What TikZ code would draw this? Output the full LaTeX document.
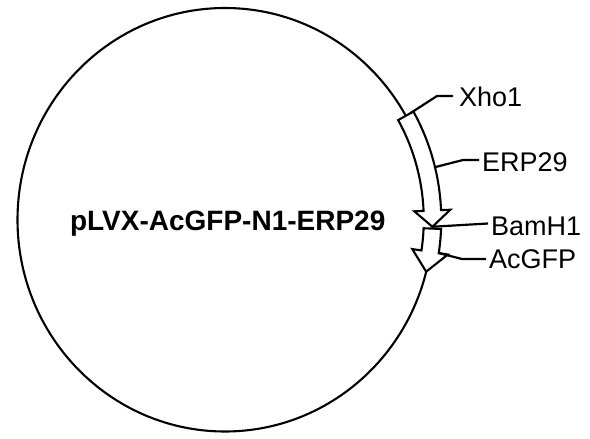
\documentclass[tikz,border=0pt]{standalone}
\usepackage{fontspec}
\setmainfont{Liberation Sans}
\usetikzlibrary{calc}
\newcommand\cx{225}
\newcommand\cy{219.75}
\newcommand\rx{207.5}
\newcommand\ry{211.75}
\newcommand\hw{8.75}
\newcommand\bw{18}
\newcommand\featarrow[3]{%
  \draw[feat] plot[domain=#1:#2,samples=40] ({\cx+(\rx-\hw)*cos(\x)},{\cy+(\ry-\hw)*sin(\x)})
    -- ({\cx+(\rx-\bw)*cos(#2)},{\cy+(\ry-\bw)*sin(#2)})
    -- ({\cx+\rx*cos(#3)},{\cy+\ry*sin(#3)})
    -- ({\cx+(\rx+\bw)*cos(#2)},{\cy+(\ry+\bw)*sin(#2)})
    -- plot[domain=#2:#1,samples=40] ({\cx+(\rx+\hw)*cos(\x)},{\cy+(\ry+\hw)*sin(\x)})
    -- cycle;}
\begin{document}
\begin{tikzpicture}[x=1pt,y=-1pt,line width=2.1pt,
  lbl/.style={font=\fontsize{27}{27}\selectfont, inner sep=0pt, anchor=base west},
  ttl/.style={font=\fontsize{28}{28}\selectfont\bfseries, inner sep=0pt, anchor=base},
  feat/.style={draw=black, fill=white, line join=miter},
  lead/.style={draw=black, line width=2.2pt, line join=round}]
\useasboundingbox[fill=white] (0,0) rectangle (590,439);
% plasmid backbone
\draw (\cx,\cy) ellipse [x radius=207.5pt, y radius=211.75pt];
% features
\featarrow{2.4}{8.7}{14.2}
\featarrow{-29.4}{-2.5}{1.9}
% title
\node[ttl] (title) at (227.7,230) {pLVX-AcGFP-N1-ERP29};
% labels
\node[lbl] (xho) at (458,106) {Xho1};
\node[lbl] (erp) at (481,171) {ERP29};
\node[lbl] (bam) at (490,235) {BamH1};
\node[lbl] (acg) at (488,268.5) {AcGFP};
% leader points
\coordinate (xs) at ({\cx+(\rx+5)*cos(-29.4)},{\cy+(\ry+5)*sin(-29.4)});
\coordinate (xk) at (437,96);
\coordinate (xe) at (453,96);
\coordinate (es) at ({\cx+(\rx+\hw)*cos(-13.8)},{\cy+(\ry+\hw)*sin(-13.8)});
\coordinate (ek) at (463,160);
\coordinate (ee) at (479,160);
\coordinate (bs) at ({\cx+\rx*cos(1.9)},{\cy+\ry*sin(1.9)});
\coordinate (be) at (488,223.5);
\coordinate (as) at ({\cx+(\rx+\hw)*cos(8.7)},{\cy+(\ry+\hw)*sin(8.7)});
\coordinate (ak) at (462,259);
\coordinate (ae) at (486,259);
\draw[lead] (xs) -- (xk) -- (xe);
\draw[lead] (es) -- (ek) -- (ee);
\draw[lead] (bs) -- (be);
\draw[lead] (as) -- (ak) -- (ae);
\end{tikzpicture}
\end{document}
